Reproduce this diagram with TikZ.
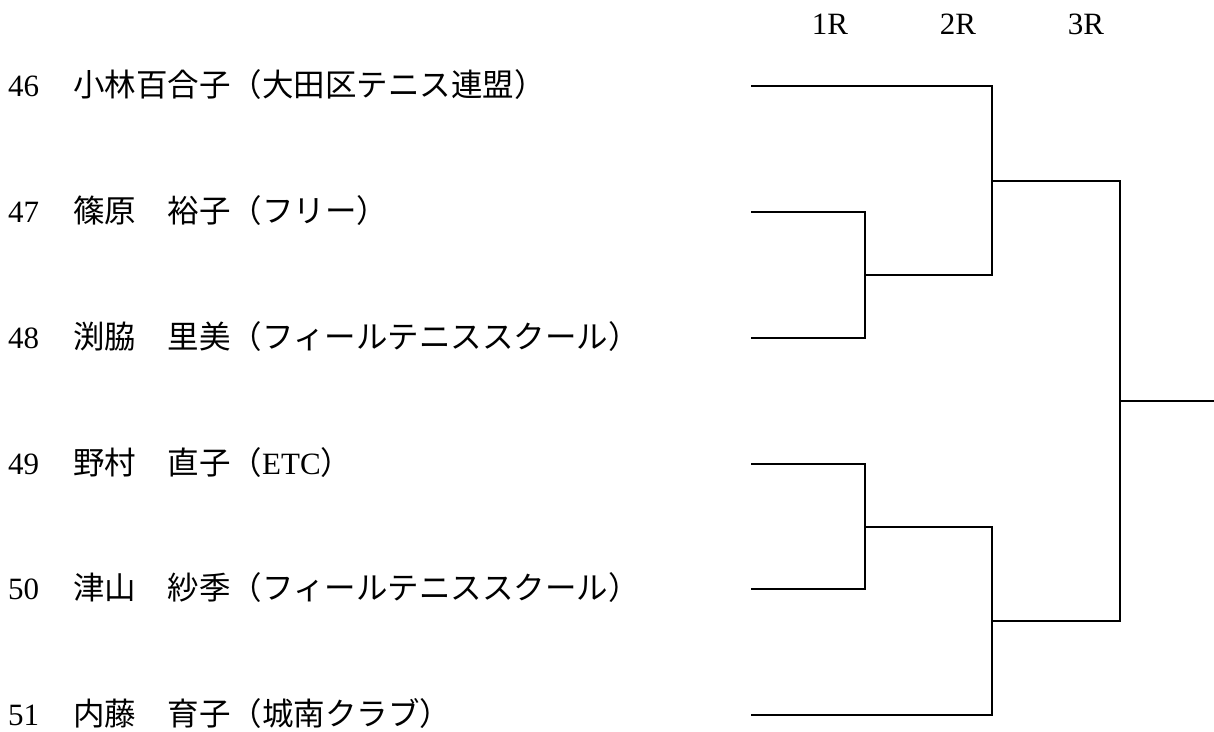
\documentclass[tikz,border=0pt]{standalone}
\usepackage{fontspec}
\setmainfont{Liberation Serif}
\newfontfamily\cjk[Scale=1.016]{Noto Sans CJK JP}
\newfontfamily\lat{Liberation Serif}
\tikzset{
  lbl/.style={inner sep=0pt, anchor=base west, font=\fontsize{31}{37}\selectfont},
  hdr/.style={inner sep=0pt, anchor=base, font=\fontsize{31}{37}\selectfont},
  br/.style={line width=1.3pt, line cap=rect}
}
\newcommand{\entry}[2]{\makebox[65pt][l]{#1}{\cjk #2}}
\begin{document}
\begin{tikzpicture}[x=1pt,y=-1pt]
\useasboundingbox (0,0) rectangle (1214,731);
% headers
\node[hdr] (h1) at (830,34) {1R};
\node[hdr] (h2) at (958,34) {2R};
\node[hdr] (h3) at (1086,34) {3R};
% players
\node[lbl] (p46) at (8,96) {\entry{46}{小林百合子（大田区テニス連盟）}};
\node[lbl] (p47) at (8,222) {\entry{47}{篠原　裕子（フリー）}};
\node[lbl] (p48) at (8,348) {\entry{48}{渕脇　里美（フィールテニススクール）}};
\node[lbl] (p49) at (8,474) {\entry{49}{野村　直子（{\lat ETC}）}};
\node[lbl] (p50) at (8,599) {\entry{50}{津山　紗季（フィールテニススクール）}};
\node[lbl] (p51) at (8,725) {\entry{51}{内藤　育子（城南クラブ）}};
% bracket line starts
\coordinate (s46) at (752,86);
\coordinate (s47) at (752,212);
\coordinate (s48) at (752,338);
\coordinate (s49) at (752,464);
\coordinate (s50) at (752,589);
\coordinate (s51) at (752,715);
% round 1
\coordinate (a1) at (865,275);
\coordinate (a2) at (865,527);
\draw[br] (s47) -| (a1) |- (s48);
\draw[br] (s49) -| (a2) |- (s50);
% round 2
\coordinate (b1) at (992,181);
\coordinate (b2) at (992,621);
\draw[br] (s46) -| (b1) |- (a1);
\draw[br] (a2) -| (b2) |- (s51);
% round 3
\coordinate (c1) at (1120,401);
\coordinate (w) at (1214,401);
\draw[br] (b1) -| (c1) |- (b2);
\draw[br] (c1) -- (w);
\end{tikzpicture}
\end{document}
